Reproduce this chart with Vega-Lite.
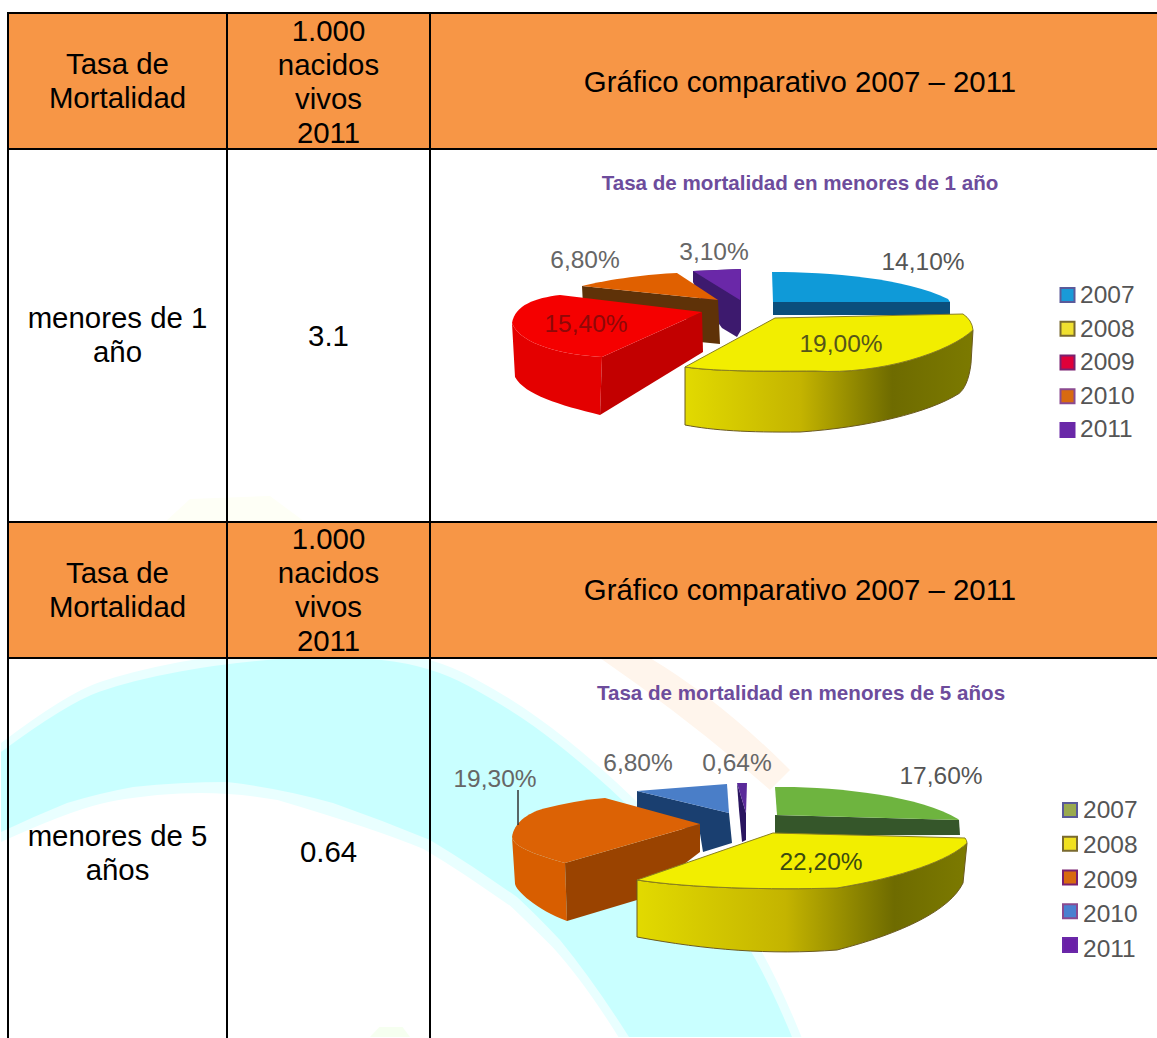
{"$schema":"https://vega.github.io/schema/vega-lite/v6.json","padding":{"left":0,"top":12,"right":0,"bottom":0},"spacing":0,"columns":3,"bounds":"flush","align":"each","background":"white","config":{"view":{"stroke":null},"text":{"font":"Liberation Sans","fontSize":29.4,"lineHeight":34,"lineBreak":"\n","color":"#000000","align":"center"}},"datasets":{"uno":[{"year":2011,"value":3.1,"label":"3,10%"},{"year":2010,"value":6.8,"label":"6,80%"},{"year":2009,"value":15.4,"label":"15,40%"},{"year":2007,"value":14.1,"label":"14,10%"},{"year":2008,"value":19.0,"label":"19,00%"}],"cinco":[{"year":2011,"value":0.64,"label":"0,64%"},{"year":2010,"value":6.8,"label":"6,80%"},{"year":2009,"value":19.3,"label":"19,30%"},{"year":2007,"value":17.6,"label":"17,60%"},{"year":2008,"value":22.2,"label":"22,20%"}],"wash":[{"band":"halo"},{"band":"cian"},{"band":"durazno"},{"band":"amarillo"},{"band":"verde"}]},"concat":[
{"width":219,"height":136,"view":{"fill":"#F79646","stroke":"#000000","strokeWidth":2},"resolve":{"scale":{"color":"independent","shape":"independent"}},"layer":[
{"data":{"name":"wash"},"mark":{"type":"point","size":4,"filled":true,"opacity":1,"strokeWidth":0},"encoding":{"shape":{"field":"band","type":"nominal","legend":null,"scale":{"domain":["halo","cian","durazno","amarillo","verde"],"range":["M-116.5,662 Q-50.5,612 -17.5,601 Q15.5,590 62.5,581 Q109.5,573 162.5,569 Q215.5,565 264,570 Q316,575 356,597 Q395,618 422,638 Q449,657 483,687 Q516,716 553,755 Q590,794 620,833 Q650,872 684,956 L501,956 Q466,900 435,866 Q412,843 393,825 Q371,810 349,795 Q328,781 306,768 Q258,748 160,719 Q109.5,710 62.5,712.5 Q15.5,715 -17.5,723 Q-50.5,731 -116.5,761 Z","M-116.5,671 Q-50.5,622 -17.5,610.5 Q15.5,599 62.5,590.5 Q109.5,582 162.5,578 Q215.5,574 264,579 Q312.5,584 351,605 Q389.5,626 416,645 Q442.5,664 476,693 Q509.5,722 546,760.5 Q582.5,799 612,837.5 Q641.5,876 674.5,956 L511.5,956 Q476,900 442.5,859 Q420,835 399.5,816 Q377.5,801 355.5,786 Q334,772 312.5,759 Q264,739 215.5,722 Q162.5,707 109.5,701 Q62.5,701 15.5,706 Q-17.5,712 -50.5,722 Q-85,736 -116.5,751 Z","M482.5,577 L532.5,577 Q602.5,619 672.5,689 L652.5,709 Q572.5,639 482.5,577 Z","M47.5,441 L187.5,441 L152.5,415 L72.5,418 Z","M252.5,956 L292.5,956 L285,946 L262,946 Z"]}},"color":{"field":"band","type":"nominal","legend":null,"scale":{"domain":["halo","cian","durazno","amarillo","verde"],"range":["#e9ffff","#c9ffff","#fff5ec","#feffF6","#f6fff0"]}}}},
{"data":{"values":[{"t":"Tasa de\nMortalidad"}]},"mark":{"type":"text","dy":-16},"encoding":{"text":{"field":"t"}}}]},
{"width":203,"height":136,"view":{"fill":"#F79646","stroke":"#000000","strokeWidth":2},"data":{"values":[{"t":"1.000\nnacidos\nvivos\n2011"}]},"mark":{"type":"text","dy":-49},"encoding":{"text":{"field":"t"}}},
{"width":728,"height":136,"view":{"fill":"#F79646","stroke":"#000000","strokeWidth":2},"data":{"values":[{"t":"Gráfico comparativo 2007 – 2011"}]},"mark":{"type":"text","dy":2,"dx":6},"encoding":{"text":{"field":"t"}}},
{"width":219,"height":373,"view":{"stroke":"#000000","strokeWidth":2},"data":{"values":[{"t":"menores de 1\naño"}]},"mark":{"type":"text","dy":-16.5},"encoding":{"text":{"field":"t"}}},
{"width":203,"height":373,"view":{"stroke":"#000000","strokeWidth":2},"data":{"values":[{"t":"3.1"}]},"mark":{"type":"text","dy":1},"encoding":{"text":{"field":"t"}}},
{"width":728,"height":373,"view":{"stroke":"#000000","strokeWidth":2},"data":{"name":"uno"},"resolve":{"scale":{"x":"independent","y":"independent","color":"independent","shape":"independent"}},"layer":[
{"data":{"values":[{"t":"Tasa de mortalidad en menores de 1 año"}]},"mark":{"type":"text","font":"Liberation Sans","fontWeight":"bold","fontSize":20.6,"color":"#6d4c9c","dx":6,"dy":-152},"encoding":{"text":{"field":"t"}}},
{"transform":[{"filter":"datum.year != 2008"}],"mark":{"type":"point","size":4,"filled":true,"opacity":1,"strokeWidth":0},"encoding":{"shape":{"field":"year","type":"nominal","legend":null,"scale":{"domain":[2007,2009,2010,2011],"range":["M-21,-33.5 L156,-33.5 L156,-20.5 L-21,-20.5 Z","M-282,-12.5 C-274,9.5 -229,19.5 -192,21.5 L-194,79.5 C-234,69.5 -269,59.5 -279,41.5 Z","M-212,-49.5 L-76,-35.5 L-74,8.5 L-94,6.5 L-94,-15 L-211,-30 Z","M-101,-64.5 L-53,-66.5 L-53,-5.5 L-57,1.5 L-72,-7.5 L-94,-37.5 L-101,-53.5 Z"]}},"color":{"field":"year","type":"nominal","legend":null,"scale":{"domain":[2007,2009,2010,2011],"range":["#0b4f7c","#e40000","#5f3208","#3d1a6e"]}}}},
{"transform":[{"filter":"datum.year == 2009"}],"mark":{"type":"point","size":4,"filled":true,"opacity":1,"strokeWidth":0,"fill":"#c20000","shape":"M-192,21.5 L-92,-23.5 L-91,16.5 L-194,79.5 Z"}},
{"transform":[{"filter":"datum.year != 2008"}],"mark":{"type":"point","size":4,"filled":true,"opacity":1,"strokeWidth":0},"encoding":{"shape":{"field":"year","type":"nominal","legend":null,"scale":{"domain":[2007,2009,2010,2011],"range":["M-22,-63.5 C36,-63.5 111,-57.5 154,-36.5 L156,-33.5 L-21,-33.5 Z","M-282,-12.5 C-279,-30.5 -259,-37.5 -234,-40.5 L-92,-23.5 L-192,21.5 C-229,19.5 -274,9.5 -282,-12.5 Z","M-212,-49.5 C-184,-56.5 -144,-61.5 -117,-62.5 L-76,-35.5 Z","M-101,-64.5 L-53,-66.5 L-54,-35.5 Z"]}},"color":{"field":"year","type":"nominal","legend":null,"scale":{"domain":[2007,2009,2010,2011],"range":["#0f9ad8","#f50000","#e06000","#6a28a8"]}}}},
{"transform":[{"filter":"datum.year == 2008"}],"mark":{"type":"point","size":4,"filled":true,"opacity":1,"stroke":"#6b5a20","strokeWidth":1,"fill":{"gradient":"linear","x1":0,"x2":1,"y1":0,"y2":0,"stops":[{"offset":0,"color":"#e2da00"},{"offset":0.4,"color":"#c4b400"},{"offset":0.72,"color":"#6e6b00"},{"offset":1,"color":"#7c7a00"}]},"shape":"M-109,31.5 C-74,36.5 -24,35.5 21,35.5 C86,39.5 156,16.5 179,-5.5 L177,28 C175,45 170,54 165,58 C135,77 73,92 6,96.5 C-47,97 -80,95 -109,89.5 Z"}},
{"transform":[{"filter":"datum.year == 2008"}],"mark":{"type":"point","size":4,"filled":true,"opacity":1,"stroke":"#8a8020","strokeWidth":1,"fill":"#f2ee00","shape":"M-19,-17.5 L169,-21.5 Q178,-15.5 179,-5.5 C156,16.5 86,39.5 21,35.5 C-24,35.5 -74,36.5 -109,31.5 Z"}},
{"mark":{"type":"text","fontSize":24.5,"baseline":"alphabetic"},"encoding":{"text":{"field":"label"},"x":{"field":"year","type":"quantitative","axis":null,"scale":{"domain":[2007,2008,2009,2010,2011],"range":[493,411,156,155,284]}},"y":{"field":"year","type":"quantitative","axis":null,"scale":{"domain":[2007,2008,2009,2010,2011],"range":[121,203,183,119,111]}},"color":{"field":"year","type":"nominal","legend":null,"scale":{"domain":[2007,2008,2009,2010,2011],"range":["#555555","#55551a","#8f0808","#666666","#666666"]}}}},
{"mark":{"type":"point","shape":"square","size":196,"filled":true,"opacity":1,"strokeWidth":2},"encoding":{"x":{"field":"year","type":"quantitative","axis":null,"scale":{"domain":[2007,2011],"range":[637.5,637.5]}},"y":{"field":"year","type":"quantitative","axis":null,"scale":{"domain":[2007,2011],"range":[146,281]}},"color":{"field":"year","type":"nominal","legend":null,"scale":{"domain":[2007,2008,2009,2010,2011],"range":["#1a9ad8","#f0e030","#e0003a","#d86a10","#6a28a8"]}},"stroke":{"field":"year","type":"nominal","legend":null,"scale":{"domain":[2007,2008,2009,2010,2011],"range":["#5a5a9a","#7a6a30","#7a2070","#8a4a90","#6a28a8"]}}}},
{"mark":{"type":"text","fontSize":24.5,"align":"left","baseline":"alphabetic","color":"#555555"},"encoding":{"text":{"field":"year","type":"quantitative","format":"d"},"x":{"field":"year","type":"quantitative","axis":null,"scale":{"domain":[2007,2011],"range":[650,650]}},"y":{"field":"year","type":"quantitative","axis":null,"scale":{"domain":[2007,2011],"range":[154,288]}}}}]},
{"width":219,"height":136,"view":{"fill":"#F79646","stroke":"#000000","strokeWidth":2},"data":{"values":[{"t":"Tasa de\nMortalidad"}]},"mark":{"type":"text","dy":-16},"encoding":{"text":{"field":"t"}}},
{"width":203,"height":136,"view":{"fill":"#F79646","stroke":"#000000","strokeWidth":2},"data":{"values":[{"t":"1.000\nnacidos\nvivos\n2011"}]},"mark":{"type":"text","dy":-50},"encoding":{"text":{"field":"t"}}},
{"width":728,"height":136,"view":{"fill":"#F79646","stroke":"#000000","strokeWidth":2},"data":{"values":[{"t":"Gráfico comparativo 2007 – 2011"}]},"mark":{"type":"text","dy":1,"dx":6},"encoding":{"text":{"field":"t"}}},
{"width":219,"height":381,"view":{"stroke":"#000000","strokeWidth":2},"data":{"values":[{"t":"menores de 5\naños"}]},"mark":{"type":"text","dy":-12},"encoding":{"text":{"field":"t"}}},
{"width":203,"height":381,"view":{"stroke":"#000000","strokeWidth":2},"data":{"values":[{"t":"0.64"}]},"mark":{"type":"text","dy":4.5},"encoding":{"text":{"field":"t"}}},
{"width":728,"height":381,"view":{"stroke":"#000000","strokeWidth":2},"data":{"name":"cinco"},"resolve":{"scale":{"x":"independent","y":"independent","color":"independent","shape":"independent"}},"layer":[
{"data":{"values":[{"t":"Tasa de mortalidad en menores de 5 años"}]},"mark":{"type":"text","font":"Liberation Sans","fontWeight":"bold","fontSize":20.6,"color":"#6d4c9c","dx":7,"dy":-155},"encoding":{"text":{"field":"t"}}},
{"transform":[{"filter":"datum.year != 2008"}],"mark":{"type":"point","size":4,"filled":true,"opacity":1,"strokeWidth":0},"encoding":{"shape":{"field":"year","type":"nominal","legend":null,"scale":{"domain":[2007,2009,2010,2011],"range":["M-19,-33.5 L165,-28.5 L166,-13.5 L-19,-13 Z","M-282,-11.5 C-280,-2 -264,4.5 -229,14.5 L-227,72.5 C-257,61.5 -279,41.5 -279,35 Z","M-157,-57.5 L-65,-35.5 L-62,-5.5 L-91,3.5 L-94,-15 L-157,-35 Z","M-57,-65.5 L-48,-35.5 L-48,-8.5 L-52,-6.5 L-55,-38.5 Z"]}},"color":{"field":"year","type":"nominal","legend":null,"scale":{"domain":[2007,2009,2010,2011],"range":["#35562a","#d85e00","#1a3f70","#2a1560"]}}}},
{"transform":[{"filter":"datum.year == 2009"}],"mark":{"type":"point","size":4,"filled":true,"opacity":1,"strokeWidth":0,"fill":"#9a4300","shape":"M-229,14.5 L-94,-24.5 L-94,3.5 L-157,51.5 L-227,72.5 Z"}},
{"transform":[{"filter":"datum.year != 2008"}],"mark":{"type":"point","size":4,"filled":true,"opacity":1,"strokeWidth":0},"encoding":{"shape":{"field":"year","type":"nominal","legend":null,"scale":{"domain":[2007,2009,2010,2011],"range":["M-19,-61.5 C36,-62.5 126,-53.5 164,-29.5 L165,-28.5 L-17,-33.5 Z","M-282,-11.5 C-280,-25 -268,-35 -250,-40 C-230,-45 -210,-49 -189,-50.5 L-94,-24.5 L-229,14.5 C-264,4.5 -280,-2 -282,-11.5 Z","M-157,-57.5 L-67,-64.5 L-65,-35.5 Z","M-57,-65.5 L-47,-65.5 L-48,-35.5 Z"]}},"color":{"field":"year","type":"nominal","legend":null,"scale":{"domain":[2007,2009,2010,2011],"range":["#6eb43f","#dc6205","#4a7ec8","#5a2a9a"]}}}},
{"transform":[{"filter":"datum.year == 2009"}],"mark":{"type":"point","size":4,"filled":false,"opacity":1,"stroke":"#333333","strokeWidth":1.5,"shape":"M-276,-58.5 L-276,-23.5"}},
{"transform":[{"filter":"datum.year == 2008"}],"mark":{"type":"point","size":4,"filled":true,"opacity":1,"stroke":"#6b5a20","strokeWidth":1,"fill":{"gradient":"linear","x1":0,"x2":1,"y1":0,"y2":0,"stops":[{"offset":0,"color":"#e2da00"},{"offset":0.45,"color":"#c4b400"},{"offset":0.78,"color":"#6e6b00"},{"offset":1,"color":"#7c7a00"}]},"shape":"M-157,31.5 C-104,39.5 -24,41.5 43,39.5 C109,28.5 156,11.5 173,-5.5 L169,34.5 C156,61.5 109,84.5 43,101.5 C-24,106.5 -87,101.5 -157,88.5 Z"}},
{"transform":[{"filter":"datum.year == 2008"}],"mark":{"type":"point","size":4,"filled":true,"opacity":1,"stroke":"#8a8020","strokeWidth":1,"fill":"#f2ee00","shape":"M-21,-15.5 L171,-10.5 Q173,-8 173,-5.5 C156,11.5 109,28.5 43,39.5 C-24,41.5 -104,39.5 -157,31.5 Z"}},
{"mark":{"type":"text","fontSize":24.5,"baseline":"alphabetic"},"encoding":{"text":{"field":"label"},"x":{"field":"year","type":"quantitative","axis":null,"scale":{"domain":[2007,2008,2009,2010,2011],"range":[511,391,65,208,307]}},"y":{"field":"year","type":"quantitative","axis":null,"scale":{"domain":[2007,2008,2009,2010,2011],"range":[126,212,129,113,113]}},"color":{"field":"year","type":"nominal","legend":null,"scale":{"domain":[2007,2008,2009,2010,2011],"range":["#555555","#3a4a10","#666666","#666666","#666666"]}}}},
{"mark":{"type":"point","shape":"square","size":196,"filled":true,"opacity":1,"strokeWidth":2},"encoding":{"x":{"field":"year","type":"quantitative","axis":null,"scale":{"domain":[2007,2011],"range":[640,640]}},"y":{"field":"year","type":"quantitative","axis":null,"scale":{"domain":[2007,2011],"range":[152,287]}},"color":{"field":"year","type":"nominal","legend":null,"scale":{"domain":[2007,2008,2009,2010,2011],"range":["#9aaa50","#f0e020","#d86a10","#4a80d0","#6a20a8"]}},"stroke":{"field":"year","type":"nominal","legend":null,"scale":{"domain":[2007,2008,2009,2010,2011],"range":["#5a3a90","#6a3a90","#8a4a70","#5a5ab0","#6a20a8"]}}}},
{"mark":{"type":"text","fontSize":24.5,"align":"left","baseline":"alphabetic","color":"#555555"},"encoding":{"text":{"field":"year","type":"quantitative","format":"d"},"x":{"field":"year","type":"quantitative","axis":null,"scale":{"domain":[2007,2011],"range":[653,653]}},"y":{"field":"year","type":"quantitative","axis":null,"scale":{"domain":[2007,2011],"range":[160,299]}}}}]}
]}
